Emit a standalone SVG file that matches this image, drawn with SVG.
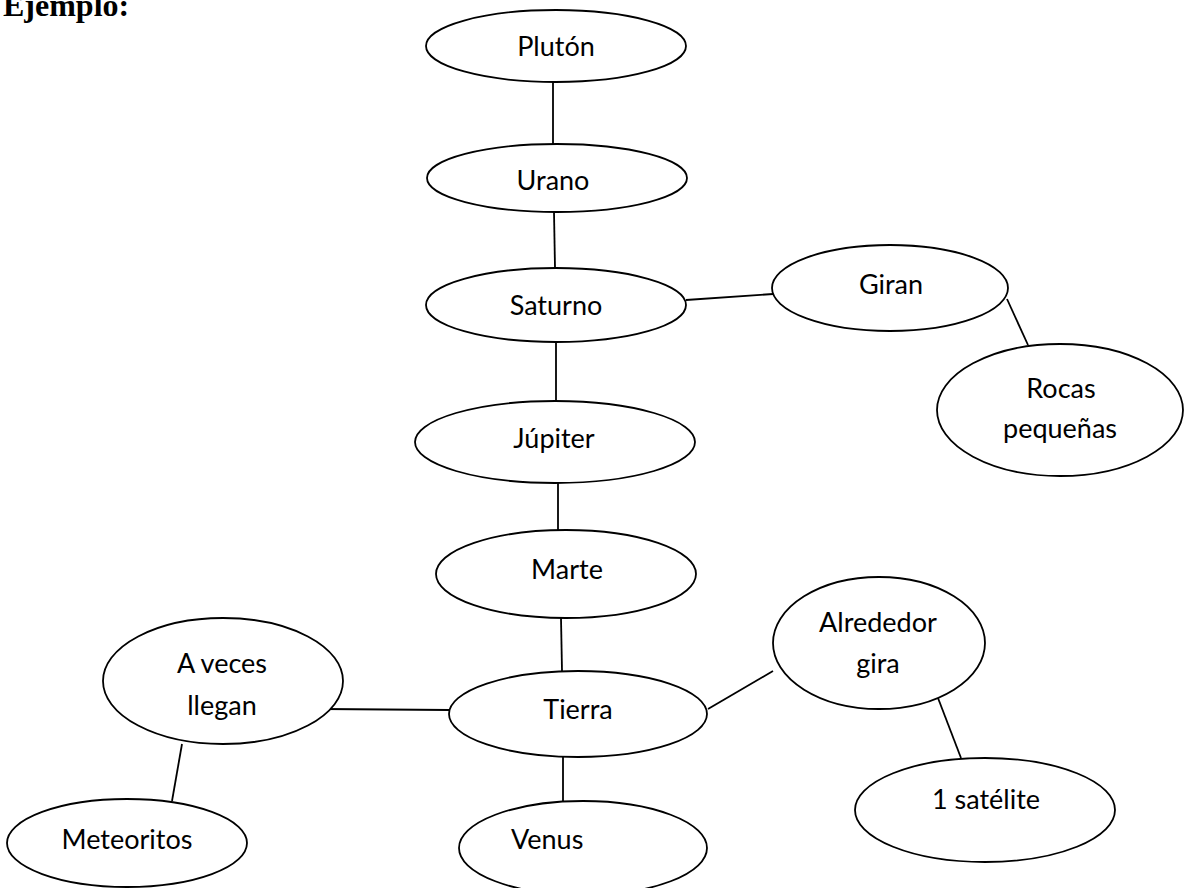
<svg xmlns="http://www.w3.org/2000/svg" width="1189" height="888" viewBox="0 0 1189 888">
<style>
.n ellipse{fill:#fff;stroke:#000;stroke-width:1.8}
.n text{font-family:Lato,"Open Sans",sans-serif;font-size:27px;fill:#000;text-anchor:middle}
#edges line{stroke:#000;stroke-width:1.8}
.title{font-family:"Liberation Serif","Times New Roman",serif;font-weight:bold;font-size:32px;fill:#000}
</style>
<rect width="1189" height="888" fill="#fff"/>
<text class="title" x="3" y="16">Ejemplo:</text>
<g id="edges">
<line x1="553" y1="82" x2="553" y2="144"/>
<line x1="554" y1="212" x2="555" y2="268"/>
<line x1="556" y1="342" x2="556" y2="401"/>
<line x1="686" y1="300" x2="773" y2="294"/>
<line x1="1007" y1="299" x2="1028" y2="345"/>
<line x1="558" y1="483" x2="558" y2="530"/>
<line x1="561" y1="618" x2="562" y2="671"/>
<line x1="323" y1="709" x2="449" y2="710"/>
<line x1="708" y1="709" x2="773" y2="671"/>
<line x1="938" y1="698" x2="961" y2="758"/>
<line x1="182" y1="744" x2="172" y2="801"/>
<line x1="563" y1="757" x2="563" y2="801"/>
</g>
<g id="pluton" class="n"><ellipse cx="556" cy="46" rx="130" ry="36"/><text x="556" y="56">Plutón</text></g>
<g id="urano" class="n"><ellipse cx="557" cy="178" rx="130" ry="34"/><text x="553" y="190">Urano</text></g>
<g id="saturno" class="n"><ellipse cx="556" cy="305" rx="130" ry="37"/><text x="556" y="315">Saturno</text></g>
<g id="giran" class="n"><ellipse cx="890" cy="288" rx="118" ry="43"/><text x="891" y="294">Giran</text></g>
<g id="rocas" class="n"><ellipse cx="1060" cy="410" rx="123" ry="66"/><text x="1061" y="398">Rocas</text><text x="1060" y="438">pequeñas</text></g>
<g id="jupiter" class="n"><ellipse cx="555" cy="442" rx="140" ry="41"/><text x="554" y="448">Júpiter</text></g>
<g id="marte" class="n"><ellipse cx="566" cy="574" rx="130" ry="44"/><text x="567" y="579">Marte</text></g>
<g id="alrededor" class="n"><ellipse cx="879" cy="643" rx="106" ry="66"/><text x="878" y="632">Alrededor</text><text x="878" y="673">gira</text></g>
<g id="aveces" class="n"><ellipse cx="223" cy="681" rx="120" ry="63"/><text x="222" y="673">A veces</text><text x="222" y="715">llegan</text></g>
<g id="tierra" class="n"><ellipse cx="578" cy="714" rx="129" ry="43"/><text x="578" y="719">Tierra</text></g>
<g id="satelite" class="n"><ellipse cx="985" cy="810" rx="130" ry="52"/><text x="986" y="809">1 satélite</text></g>
<g id="meteoritos" class="n"><ellipse cx="127" cy="843" rx="120" ry="44"/><text x="127" y="849">Meteoritos</text></g>
<g id="venus" class="n"><ellipse cx="583" cy="848" rx="124" ry="47"/><text x="511" y="849" style="text-anchor:start">Venus</text></g>
</svg>
